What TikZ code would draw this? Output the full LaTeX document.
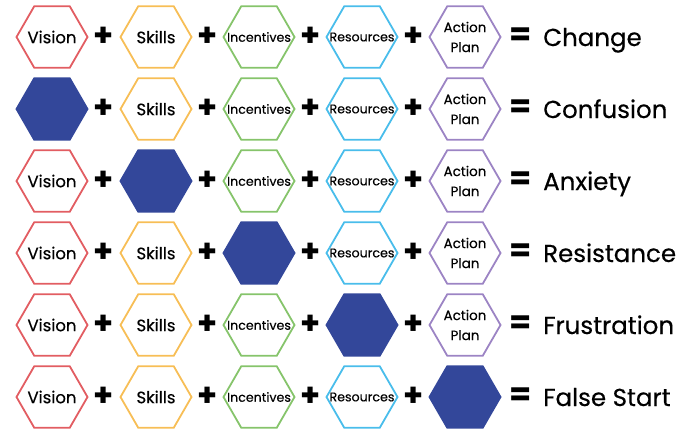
\documentclass[tikz,border=0pt]{standalone}
\usepackage{fontspec}
\setmainfont{Poppins}
\newfontfamily\medfont[FakeBold=0.4]{Poppins}
\usetikzlibrary{shapes.geometric}
\definecolor{visred}{HTML}{E25D62}
\definecolor{skiorange}{HTML}{F7BE56}
\definecolor{incgreen}{HTML}{86C46B}
\definecolor{resblue}{HTML}{49BDEB}
\definecolor{actpurple}{HTML}{9C84C4}
\definecolor{gapnavy}{HTML}{33479A}
\tikzstyle{hexa}=[
	 regular polygon,
	 regular polygon sides=6,
	 minimum size=71pt, inner sep=0pt,
	 line width=1.8pt, node contents={}
    ]
\tikzstyle{vis}=[hexa, draw=visred, label={[font=\medfont\fontsize{16.5}{16.5}\selectfont]center:Vision}]
\tikzstyle{ski}=[hexa, draw=skiorange, label={[font=\medfont\fontsize{16.5}{16.5}\selectfont]center:Skills}]
\tikzstyle{inc}=[hexa, draw=incgreen, label={[font=\medfont\fontsize{12.6}{12.6}\selectfont]center:Incentives}]
\tikzstyle{rsc}=[hexa, draw=resblue, label={[font=\medfont\fontsize{12.6}{12.6}\selectfont]center:Resources}]
\tikzstyle{act}=[hexa, draw=actpurple, label={[align=center, font=\medfont\fontsize{13.5}{20}\selectfont]center:Action\\Plan}]
\tikzstyle{gap}=[hexa, draw=gapnavy, fill=gapnavy]
\tikzstyle{sgn}=[inner sep=0pt, font=\fontsize{32}{32}\selectfont\bfseries]
\tikzstyle{res}=[inner sep=0pt, anchor=base west, yshift=-9pt, font=\medfont\fontsize{24.5}{24.5}\selectfont]
\newcommand{\hexRow}[8]{
\node (V#1) at (52,#2) [#3];
\node (S#1) at (156,#2) [#4];
\node (I#1) at (259,#2) [#5];
\node (R#1) at (362,#2) [#6];
\node (A#1) at (465,#2) [#7];
\node[sgn] (Pa#1) at (104,#2) {+};
\node[sgn] (Pb#1) at (207.5,#2) {+};
\node[sgn] (Pc#1) at (310.5,#2) {+};
\node[sgn] (Pd#1) at (413.5,#2) {+};
\node[sgn] (E#1) at (521,#2) {=};
\node[res] (L#1) at (543,#2) {#8};
}

\begin{document}
\begin{tikzpicture}[x=1pt,y=-1pt]

\useasboundingbox (0,0) rectangle (682,432);

\hexRow{1}{37}{vis}{ski}{inc}{rsc}{act}{Change}
\hexRow{2}{109}{gap}{ski}{inc}{rsc}{act}{Confusion}
\hexRow{3}{181}{vis}{gap}{inc}{rsc}{act}{Anxiety}
\hexRow{4}{253}{vis}{ski}{gap}{rsc}{act}{Resistance}
\hexRow{5}{325}{vis}{ski}{inc}{gap}{act}{Frustration}
\hexRow{6}{397}{vis}{ski}{inc}{rsc}{gap}{False Start}

\end{tikzpicture}
\end{document}
